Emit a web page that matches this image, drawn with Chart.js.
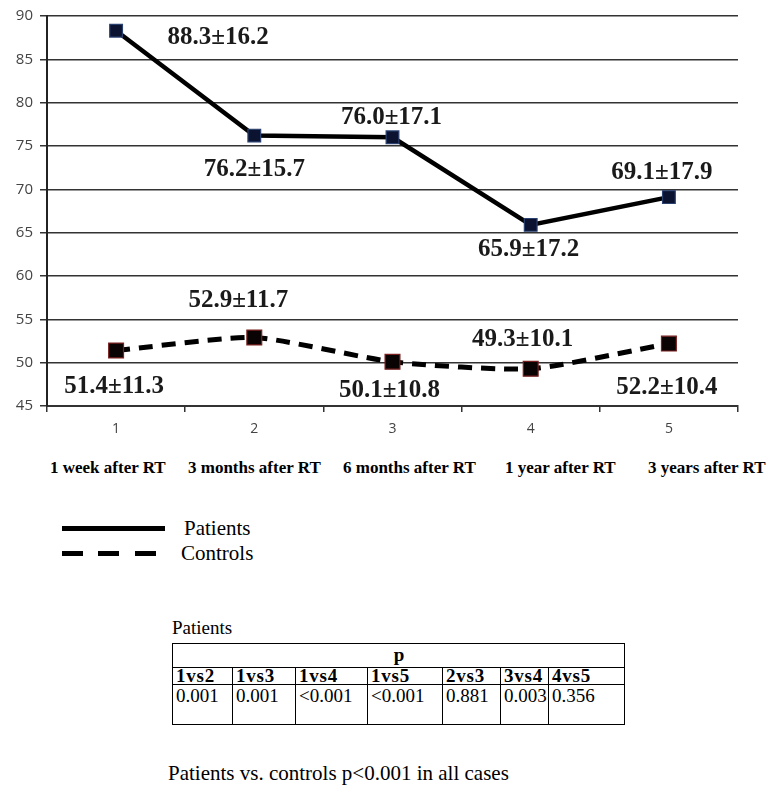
<!DOCTYPE html>
<html>
<head>
<meta charset="utf-8">
<script src="https://cdn.jsdelivr.net/npm/chart.js@4.4.1/dist/chart.umd.min.js"></script>
<style>
  html, body { margin: 0; padding: 0; background: #fff; }
  body { width: 770px; height: 785px; position: relative; overflow: hidden; font-family: "Liberation Serif", "Times New Roman", serif; color: #000; }
  #wrap { position: absolute; left: 0; top: 0; width: 770px; height: 440px; }
  .cat { position: absolute; top: 458px; font-weight: bold; font-size: 17px; white-space: nowrap; }
  .lg-line { position: absolute; height: 5px; background: #000; }
  .lg-text { position: absolute; font-size: 21px; line-height: 22px; font-family: "Liberation Serif", serif; }
  .ttl { position: absolute; left: 172px; top: 617px; font-size: 19px; }
  table { position: absolute; left: 172px; top: 643px; width: 452px; border-collapse: collapse; font-size: 19px; table-layout: fixed; }
  td { border: 1px solid #000; padding: 0 2px 0 3px; vertical-align: top; text-align: left; overflow: visible; white-space: nowrap; }
  tr.r1 td { height: 24px; line-height: 19px; text-align: center; font-weight: bold; vertical-align: top; padding-top: 1px; box-sizing: border-box; }
  tr.r2 td { height: 15px; line-height: 16px; font-weight: bold; letter-spacing: 0.8px; font-size: 19px; }
  tr.r3 td { height: 38px; line-height: 20px; padding-top: 1px; }
  .foot { position: absolute; left: 168px; top: 761px; font-size: 21px; white-space: nowrap; }
</style>
</head>
<body>
<div id="wrap"><canvas id="c" width="770" height="440"></canvas></div>
<div id="cats"></div>
<div class="lg-line" style="left:62px; top:526px; width:103px;"></div>
<div class="lg-line" style="left:62px; top:551px; width:21px;"></div>
<div class="lg-line" style="left:98px; top:551px; width:21px;"></div>
<div class="lg-line" style="left:135px; top:551px; width:21px;"></div>
<div class="lg-text" style="left:184px; top:517px;">Patients</div>
<div class="lg-text" style="left:181px; top:542px;">Controls</div>
<div class="ttl">Patients</div>
<table id="tbl"></table>
<div class="foot">Patients vs. controls p&lt;0.001 in all cases</div>
<script>
// ---- data ----
const xLabels = ["1", "2", "3", "4", "5"];
const timepoints = ["1 week after RT", "3 months after RT", "6 months after RT", "1 year after RT", "3 years after RT"];
const patientsMean = [88.3, 76.2, 76.0, 65.9, 69.1];
const patientsSD = [16.2, 15.7, 17.1, 17.2, 17.9];
const controlsMean = [51.4, 52.9, 50.1, 49.3, 52.2];
const controlsSD = [11.3, 11.7, 10.8, 10.1, 10.4];
const yTicks = [45, 50, 55, 60, 65, 70, 75, 80, 85, 90];
const comparisons = ["1vs2", "1vs3", "1vs4", "1vs5", "2vs3", "3vs4", "4vs5"];
const pValues = ["0.001", "0.001", "<0.001", "<0.001", "0.881", "0.003", "0.356"];

// ---- category names under the axis ----
const catLeft = [50, 188, 343, 505, 648];
const cats = document.getElementById('cats');
timepoints.forEach((t, i) => {
  const d = document.createElement('div');
  d.className = 'cat';
  d.style.left = catLeft[i] + 'px';
  d.textContent = t;
  cats.appendChild(d);
});

// ---- table ----
const tbl = document.getElementById('tbl');
const colW = [60, 63, 72, 75, 58, 48, 76];
let h = '<colgroup>';
colW.forEach(w => { h += '<col style="width:' + w + 'px">'; });
h += '</colgroup><tr class="r1"><td colspan="' + comparisons.length + '">p</td></tr><tr class="r2">';
comparisons.forEach(c => { h += '<td>' + c + '</td>'; });
h += '</tr><tr class="r3">';
pValues.forEach(p => { h += '<td>' + p.replace('<', '&lt;') + '</td>'; });
h += '</tr>';
tbl.innerHTML = h;

// ---- label offsets (style) ----
const labelOffsets = [
  [[102, 7], [0, 34], [-1, -20], [-2, 25], [-7, -25]],
  [[-2, 36], [-16, -37], [-3, 29], [-8, -29], [-2, 44]]
];
const sds = [patientsSD, controlsSD];

const labelPlugin = {
  id: 'valueLabels',
  afterDatasetsDraw(chart) {
    const ctx = chart.ctx;
    ctx.save();
    ctx.font = 'bold 25px "Liberation Serif", "Times New Roman", serif';
    ctx.fillStyle = '#1a1a1a';
    ctx.textAlign = 'center';
    ctx.textBaseline = 'middle';
    chart.data.datasets.forEach((ds, di) => {
      const meta = chart.getDatasetMeta(di);
      meta.data.forEach((pt, i) => {
        const txt = ds.data[i].toFixed(1) + '\u00B1' + sds[di][i].toFixed(1);
        const o = labelOffsets[di][i];
        ctx.fillText(txt, pt.x + o[0], pt.y + o[1]);
      });
    });
    ctx.restore();
  }
};

new Chart(document.getElementById('c'), {
  type: 'line',
  data: {
    labels: xLabels,
    datasets: [
      {
        label: 'Patients',
        data: patientsMean,
        borderColor: '#000',
        borderWidth: 4.5,
        tension: 0,
        pointStyle: 'rect',
        pointRadius: 9,
        pointBackgroundColor: '#0b1330',
        pointBorderColor: '#2a4170',
        pointBorderWidth: 1.2
      },
      {
        label: 'Controls',
        data: controlsMean,
        borderColor: '#000',
        borderWidth: 5,
        borderDash: [14, 9],
        tension: 0.2,
        pointStyle: 'rect',
        pointRadius: 10.5,
        pointBackgroundColor: '#0a0303',
        pointBorderColor: '#7a2020',
        pointBorderWidth: 1.2
      }
    ]
  },
  options: {
    responsive: false,
    animation: false,
    devicePixelRatio: 1,
    layout: { padding: { left: 0, top: 16, right: 32, bottom: 0 } },
    plugins: { legend: { display: false }, tooltip: { enabled: false } },
    scales: {
      x: {
        type: 'category',
        offset: true,
        afterFit(s) { s.height = 34; },
        grid: { display: true, offset: true, drawOnChartArea: false, drawTicks: true, tickLength: 6, color: '#333', lineWidth: 1.5 },
        border: { display: true, color: '#333', width: 2 },
        ticks: { padding: 9, color: '#444', font: { family: '"Open Sans", "Liberation Sans", sans-serif', size: 14 } }
      },
      y: {
        min: 45,
        max: 90,
        afterFit(s) { s.width = 47; },
        afterBuildTicks(s) { s.ticks = yTicks.map(v => ({ value: v })); },
        grid: { color: '#333', lineWidth: 1.5, drawTicks: true, tickLength: 7 },
        border: { display: true, color: '#222', width: 2 },
        ticks: { padding: 7, color: '#444', font: { family: '"Open Sans", "Liberation Sans", sans-serif', size: 15 } }
      }
    }
  },
  plugins: [labelPlugin]
});
</script>
</body>
</html>
